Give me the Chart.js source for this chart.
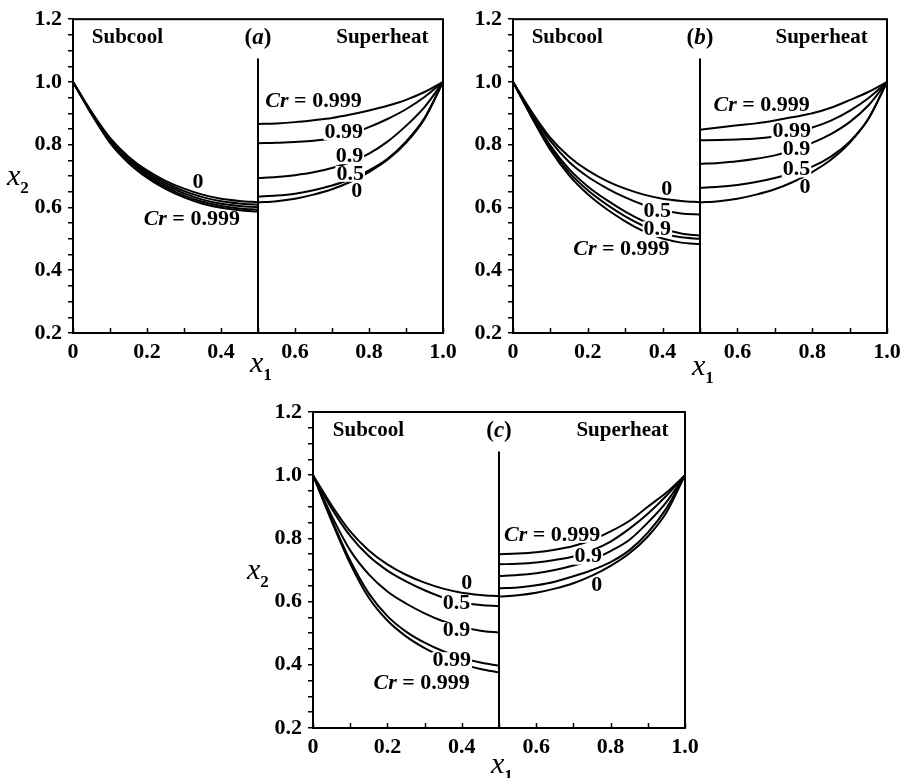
<!DOCTYPE html>
<html>
<head>
<meta charset="utf-8">
<script src="https://cdn.jsdelivr.net/npm/chart.js@4.4.1/dist/chart.umd.min.js"></script>
<style>
  html, body { margin: 0; padding: 0; background: #fff; }
  body { width: 903px; height: 778px; position: relative; overflow: hidden; }
  canvas { position: absolute; }
</style>
</head>
<body>
<canvas id="chartA" width="464" height="390" style="left:0;top:0"></canvas>
<canvas id="chartB" width="448" height="390" style="left:460px;top:0"></canvas>
<canvas id="chartC" width="480" height="388" style="left:230px;top:390px"></canvas>
<script>
// x positions of the read-off points
const xSub = [0, 0.05, 0.1, 0.15, 0.2, 0.25, 0.3, 0.35, 0.4, 0.45, 0.5];
const xSup = [0.5, 0.55, 0.6, 0.65, 0.7, 0.75, 0.8, 0.85, 0.9, 0.95, 1.0];
const crLevels = ['0', '0.5', '0.9', '0.99', '0.999'];

// Cr = 0 is the same curve in all three panels
const subCr0 = [1.0, 0.905, 0.822, 0.762, 0.718, 0.685, 0.66, 0.641, 0.628, 0.621, 0.617];
const supCr0 = [0.616, 0.62, 0.628, 0.641, 0.658, 0.682, 0.713, 0.752, 0.806, 0.882, 1.0];

// panel (a)
const subA05 = [1.0, 0.903, 0.818, 0.757, 0.712, 0.678, 0.652, 0.633, 0.62, 0.613, 0.609];
const subA09 = [1.0, 0.901, 0.814, 0.752, 0.706, 0.671, 0.645, 0.625, 0.612, 0.605, 0.601];
const subA099 = [1.0, 0.899, 0.81, 0.747, 0.7, 0.665, 0.638, 0.618, 0.605, 0.597, 0.593];
const subA0999 = [1.0, 0.897, 0.806, 0.742, 0.695, 0.659, 0.632, 0.612, 0.599, 0.591, 0.587];
const supA05 = [0.635, 0.638, 0.644, 0.655, 0.67, 0.69, 0.718, 0.755, 0.81, 0.885, 1.0];
const supA09 = [0.694, 0.697, 0.703, 0.712, 0.726, 0.745, 0.772, 0.81, 0.86, 0.92, 1.0];
const supA099 = [0.805, 0.806, 0.809, 0.813, 0.82, 0.834, 0.856, 0.882, 0.913, 0.952, 1.0];
const supA0999 = [0.866, 0.868, 0.872, 0.878, 0.885, 0.896, 0.909, 0.924, 0.943, 0.968, 1.0];

// panel (b)
const subB05 = [1.0, 0.9, 0.812, 0.745, 0.698, 0.662, 0.632, 0.608, 0.591, 0.581, 0.578];
const subB09 = [1.0, 0.893, 0.797, 0.722, 0.667, 0.624, 0.587, 0.556, 0.532, 0.517, 0.51];
const subB099 = [1.0, 0.89, 0.79, 0.712, 0.655, 0.61, 0.572, 0.541, 0.518, 0.505, 0.5];
const subB0999 = [1.0, 0.887, 0.783, 0.702, 0.642, 0.595, 0.556, 0.524, 0.501, 0.488, 0.483];
const supB05 = [0.663, 0.666, 0.672, 0.681, 0.694, 0.71, 0.73, 0.762, 0.81, 0.882, 1.0];
const supB09 = [0.739, 0.742, 0.747, 0.755, 0.766, 0.783, 0.806, 0.834, 0.872, 0.925, 1.0];
const supB099 = [0.814, 0.815, 0.817, 0.82, 0.826, 0.838, 0.855, 0.877, 0.908, 0.948, 1.0];
const supB0999 = [0.848, 0.855, 0.862, 0.868, 0.877, 0.888, 0.9, 0.918, 0.942, 0.968, 1.0];

// panel (c)
const subC05 = [1.0, 0.895, 0.808, 0.744, 0.698, 0.664, 0.636, 0.613, 0.598, 0.589, 0.586];
const subC09 = [1.0, 0.872, 0.762, 0.686, 0.632, 0.594, 0.563, 0.538, 0.52, 0.508, 0.502];
const subC099 = [1.0, 0.86, 0.73, 0.626, 0.554, 0.505, 0.47, 0.443, 0.422, 0.407, 0.397];
const subC0999 = [1.0, 0.855, 0.72, 0.612, 0.54, 0.49, 0.453, 0.424, 0.402, 0.387, 0.376];
const supC05 = [0.642, 0.645, 0.652, 0.663, 0.68, 0.7, 0.725, 0.762, 0.818, 0.895, 1.0];
const supC09 = [0.681, 0.684, 0.69, 0.7, 0.714, 0.733, 0.76, 0.795, 0.85, 0.915, 1.0];
const supC099 = [0.718, 0.72, 0.724, 0.732, 0.743, 0.762, 0.79, 0.83, 0.878, 0.935, 1.0];
const supC0999 = [0.75, 0.752, 0.756, 0.764, 0.776, 0.795, 0.822, 0.855, 0.9, 0.945, 1.0];

// dividing line between subcool and superheat
const dividerX = [0.5, 0.5];
const dividerY = [1.075, 0.2];

const SERIF = '"Liberation Serif", "Times New Roman", serif';
Chart.defaults.font.family = SERIF;

// per-panel annotation layout (data coordinates)
const panels = {
  chartA: {
    tag: 'a', subcoolX: 0.147, superheatX: 0.836, yTitle: true, xTitleDy: 39,
    padTop: 15, padRight: 21, yAxisW: 73, xAxisH: 57,
    labels: [
      { t: '0', x: 0.338, y: 0.681 }, { t: 'Cr = 0.999', x: 0.321, y: 0.561 },
      { t: 'Cr = 0.999', x: 0.65, y: 0.938 }, { t: '0.99', x: 0.732, y: 0.84 },
      { t: '0.9', x: 0.747, y: 0.763 }, { t: '0.5', x: 0.749, y: 0.707 }, { t: '0', x: 0.767, y: 0.65 }
    ]
  },
  chartB: {
    tag: 'b', subcoolX: 0.145, superheatX: 0.825, yTitle: false, xTitleDy: 42,
    padTop: 17, padRight: 21, yAxisW: 53, xAxisH: 57,
    labels: [
      { t: '0', x: 0.411, y: 0.658 }, { t: '0.5', x: 0.386, y: 0.589 },
      { t: '0.9', x: 0.386, y: 0.531 }, { t: 'Cr = 0.999', x: 0.29, y: 0.468 },
      { t: 'Cr = 0.999', x: 0.665, y: 0.927 }, { t: '0.99', x: 0.745, y: 0.842 },
      { t: '0.9', x: 0.758, y: 0.784 }, { t: '0.5', x: 0.758, y: 0.721 }, { t: '0', x: 0.781, y: 0.663 }
    ]
  },
  chartC: {
    tag: 'c', subcoolX: 0.149, superheatX: 0.832, yTitle: true, xTitleDy: 45,
    padTop: 22, padRight: 25, yAxisW: 83, xAxisH: 50,
    labels: [
      { t: '0', x: 0.413, y: 0.658 }, { t: '0.5', x: 0.386, y: 0.595 },
      { t: '0.9', x: 0.386, y: 0.51 }, { t: '0.99', x: 0.373, y: 0.415 },
      { t: 'Cr = 0.999', x: 0.292, y: 0.341 },
      { t: 'Cr = 0.999', x: 0.643, y: 0.811 }, { t: '0.9', x: 0.74, y: 0.742 }, { t: '0', x: 0.763, y: 0.653 }
    ]
  }
};

function toPoints(xs, ys) {
  return ys.map((v, i) => ({ x: xs[i], y: v }));
}

function splitLabel(text) {
  if (text.startsWith('Cr')) return [['Cr', 'it'], [text.slice(2), 'rm']];
  return [[text, 'rm']];
}

function drawParts(ctx, parts, cx, cy, size, clear) {
  const fonts = parts.map(p => (p[1] === 'it' ? 'italic bold ' : 'bold ') + size + 'px ' + SERIF);
  const widths = parts.map((p, i) => { ctx.font = fonts[i]; return ctx.measureText(p[0]).width; });
  const w = widths.reduce((s, v) => s + v, 0);
  let x = cx - w / 2;
  if (clear) {
    ctx.fillStyle = '#fff';
    ctx.fillRect(x - 1, cy - size * 0.36, w + 2, size * 0.72);
  }
  ctx.fillStyle = '#000';
  ctx.textAlign = 'left';
  ctx.textBaseline = 'middle';
  parts.forEach((p, i) => { ctx.font = fonts[i]; ctx.fillText(p[0], x, cy); x += widths[i]; });
}

function drawVar(ctx, sub, left, baseline) {
  ctx.fillStyle = '#000';
  ctx.textAlign = 'left';
  ctx.textBaseline = 'alphabetic';
  ctx.font = 'italic 30px ' + SERIF;
  ctx.fillText('x', left, baseline);
  const w = ctx.measureText('x').width;
  ctx.font = 'bold 17px ' + SERIF;
  ctx.fillText(sub, left + w, baseline + 8);
}

const decor = {
  id: 'decor',
  afterDatasetsDraw(chart) {
    const o = panels[chart.canvas.id];
    const { ctx, chartArea: a } = chart;
    const sx = chart.scales.x, sy = chart.scales.y;
    ctx.save();
    ctx.strokeStyle = '#000';
    ctx.lineWidth = 2;
    ctx.strokeRect(a.left, a.top, a.right - a.left, a.bottom - a.top);
    // x ticks point into the plot, as in the original
    ctx.lineWidth = 1.5;
    ctx.beginPath();
    sx.ticks.forEach(t => {
      const px = Math.round(sx.getPixelForValue(t.value)) + 0.5;
      ctx.moveTo(px, a.bottom);
      ctx.lineTo(px, a.bottom - 5);
    });
    ctx.stroke();
    const hy = sy.getPixelForValue(1.14);
    drawParts(ctx, [['Subcool', 'rm']], sx.getPixelForValue(o.subcoolX), hy, 21, false);
    drawParts(ctx, [['(', 'rm'], [o.tag, 'it'], [')', 'rm']], sx.getPixelForValue(0.5), hy, 23, false);
    drawParts(ctx, [['Superheat', 'rm']], sx.getPixelForValue(o.superheatX), hy, 21, false);
    o.labels.forEach(l => drawParts(ctx, splitLabel(l.t), sx.getPixelForValue(l.x), sy.getPixelForValue(l.y), 22, true));
    drawVar(ctx, '1', (a.left + a.right) / 2 - 8, a.bottom + o.xTitleDy);
    if (o.yTitle) drawVar(ctx, '2', a.left - 66, (a.top + a.bottom) / 2 + 9);
    ctx.restore();
  }
};

function curve(points) {
  return {
    data: points,
    showLine: true,
    borderColor: '#000',
    borderWidth: 2,
    pointRadius: 0,
    cubicInterpolationMode: 'monotone',
    fill: false
  };
}

function makePanel(id, subSeries, supSeries) {
  const o = panels[id];
  const datasets = [];
  subSeries.forEach(ys => datasets.push(curve(toPoints(xSub, ys))));
  supSeries.forEach(ys => datasets.push(curve(toPoints(xSup, ys))));
  datasets.push({
    data: toPoints(dividerX, dividerY),
    showLine: true, borderColor: '#000', borderWidth: 2, pointRadius: 0, tension: 0
  });
  const tickFont = { family: SERIF, size: 22, weight: 'bold' };
  new Chart(document.getElementById(id), {
    type: 'scatter',
    data: { datasets },
    options: {
      responsive: false,
      animation: false,
      events: [],
      layout: { padding: { top: o.padTop, right: o.padRight, left: 0, bottom: 0 } },
      plugins: { legend: { display: false }, tooltip: { enabled: false } },
      scales: {
        x: {
          type: 'linear', min: 0, max: 1,
          afterFit: s => { s.height = o.xAxisH; },
          grid: { drawOnChartArea: false, drawTicks: false, color: '#000' },
          border: { color: '#000', width: 2 },
          ticks: {
            stepSize: 0.1, autoSkip: false, maxRotation: 0, color: '#000', font: tickFont, padding: 6,
            callback: v => {
              const k = Math.round(v * 10);
              if (k % 2 !== 0) return '';
              return k === 0 ? '0' : (k / 10).toFixed(1);
            }
          }
        },
        y: {
          type: 'linear', min: 0.2, max: 1.2,
          afterFit: s => { s.width = o.yAxisW; },
          grid: { drawOnChartArea: false, tickLength: 5, color: '#000', lineWidth: 1.5 },
          border: { color: '#000', width: 2 },
          ticks: {
            stepSize: 0.05, autoSkip: false, color: '#000', font: tickFont, padding: 6,
            callback: v => {
              const k = Math.round(v * 100);
              return k % 20 === 0 ? (k / 100).toFixed(1) : '';
            }
          }
        }
      }
    },
    plugins: [decor]
  });
}

makePanel('chartA', [subCr0, subA05, subA09, subA099, subA0999], [supCr0, supA05, supA09, supA099, supA0999]);
makePanel('chartB', [subCr0, subB05, subB09, subB099, subB0999], [supCr0, supB05, supB09, supB099, supB0999]);
makePanel('chartC', [subCr0, subC05, subC09, subC099, subC0999], [supCr0, supC05, supC09, supC099, supC0999]);
</script>
</body>
</html>
